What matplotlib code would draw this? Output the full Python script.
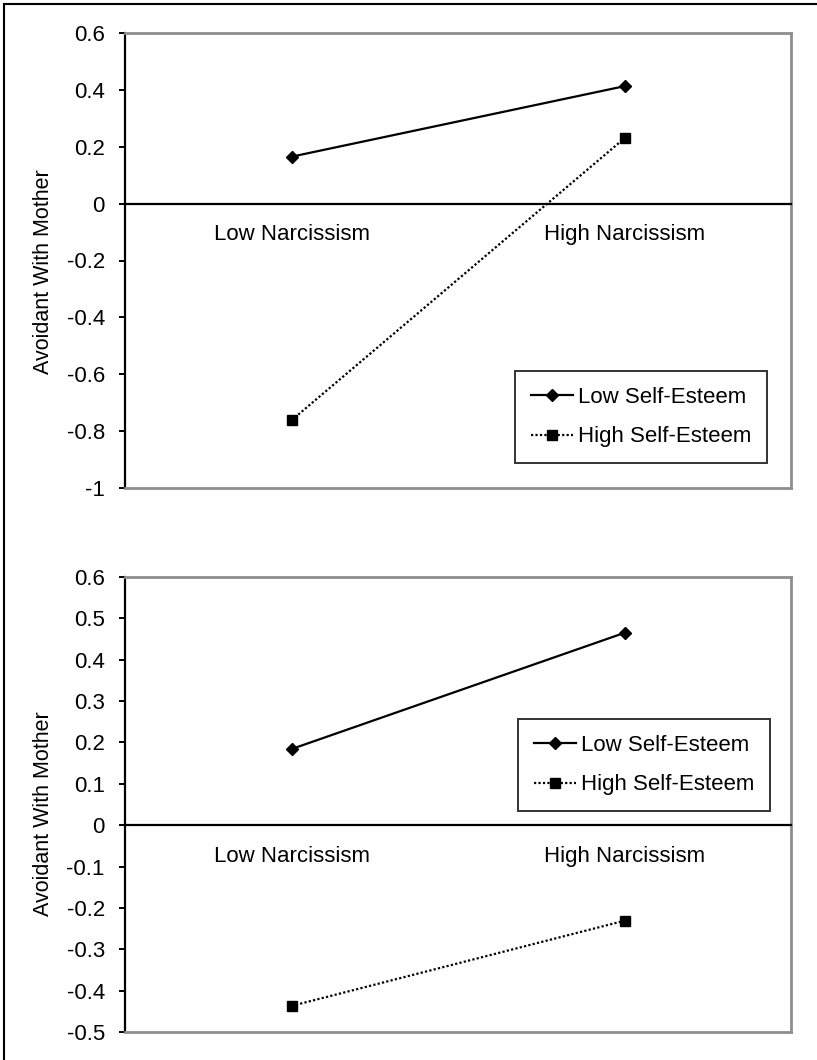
import matplotlib
matplotlib.use("Agg")
import matplotlib.pyplot as plt
from matplotlib.lines import Line2D

plt.rcParams['font.family'] = ['Liberation Sans', 'DejaVu Sans']

categories = ["Low Narcissism", "High Narcissism"]
series_names = ["Low Self-Esteem", "High Self-Esteem"]

top_low_se = [0.165, 0.413]
top_high_se = [-0.762, 0.23]
bottom_low_se = [0.184, 0.465]
bottom_high_se = [-0.437, -0.231]

top_yticks = [0.6, 0.4, 0.2, 0, -0.2, -0.4, -0.6, -0.8, -1]
bottom_yticks = [0.6, 0.5, 0.4, 0.3, 0.2, 0.1, 0, -0.1, -0.2, -0.3, -0.4, -0.5]
ylabel = "Avoidant With Mother"

W, H = 817, 1060
fig = plt.figure(figsize=(W / 100, H / 100), dpi=100)

GRAY = "#8e8e8e"
FS_TICK = 16
FS_CAT = 16
FS_LAB = 15.5
FS_LEG = 16


def fmt(v):
    if v == 0:
        return "0"
    s = ("%.1f" % v)
    if s.endswith(".0"):
        s = s[:-2]
    return s


def make_panel(rect, low, high, yticks, legend_bbox, label_y):
    ax = fig.add_axes(rect)
    x = list(range(1, len(categories) + 1))
    ax.plot(x, low, color="black", lw=1.6, marker="D", ms=6,
            markerfacecolor="black", markeredgecolor="black",
            label=series_names[0], clip_on=False, zorder=4)
    ax.plot(x, high, color="black", lw=1.6, linestyle=(0, (1, 1)),
            marker="s", ms=7, markerfacecolor="black", markeredgecolor="black",
            label=series_names[1], clip_on=False, zorder=4)
    ax.set_xlim(0.5, len(categories) + 0.5)
    ax.set_ylim(min(yticks), max(yticks))
    ax.set_yticks(yticks)
    ax.set_yticklabels([fmt(v) for v in yticks])
    ax.set_xticks(x)
    ax.set_xticklabels(categories)
    ax.spines['bottom'].set_position(('data', 0))
    ax.spines['bottom'].set_color('black')
    ax.spines['bottom'].set_linewidth(1.6)
    ax.spines['left'].set_color('black')
    ax.spines['left'].set_linewidth(1.6)
    for s in ['top', 'right']:
        ax.spines[s].set_color(GRAY)
        ax.spines[s].set_linewidth(2.0)
    ax.axhline(min(yticks), color=GRAY, lw=2.0, clip_on=False, zorder=3)
    ax.tick_params(axis='x', length=0, pad=15, labelsize=FS_CAT)
    ax.tick_params(axis='y', direction='out', length=4.5, width=1.4,
                   pad=10, labelsize=FS_TICK)
    ax.set_ylabel(ylabel, fontsize=FS_LAB)
    ax.yaxis.set_label_coords(-0.106, label_y)
    leg = ax.legend(loc='upper left', bbox_to_anchor=legend_bbox,
                    frameon=True, fancybox=False, fontsize=FS_LEG,
                    handlelength=1.9, handletextpad=0.22, borderpad=0.7,
                    labelspacing=0.85, borderaxespad=0)
    leg.get_frame().set_edgecolor('black')
    leg.get_frame().set_linewidth(1.4)
    return ax


ax_w = 666 / W
ax_h = 455 / H
left = 125 / W

make_panel([left, 1 - 488 / H, ax_w, ax_h], top_low_se, top_high_se,
           top_yticks, ((515 - 125) / 666, (488 - 371) / 455), 0.476)
make_panel([left, 1 - 1032 / H, ax_w, ax_h], bottom_low_se, bottom_high_se,
           bottom_yticks, ((518 - 125) / 666, (1032 - 719) / 455), 0.48)

# outer frame (left and top edges visible)
fig.add_artist(Line2D([4 / W, 4 / W], [0, 1 - 4 / H], transform=fig.transFigure,
                      color='black', lw=1.5))
fig.add_artist(Line2D([4 / W, 1], [1 - 4 / H, 1 - 4 / H], transform=fig.transFigure,
                      color='black', lw=1.5))

fig.savefig("out.png", dpi=100)
